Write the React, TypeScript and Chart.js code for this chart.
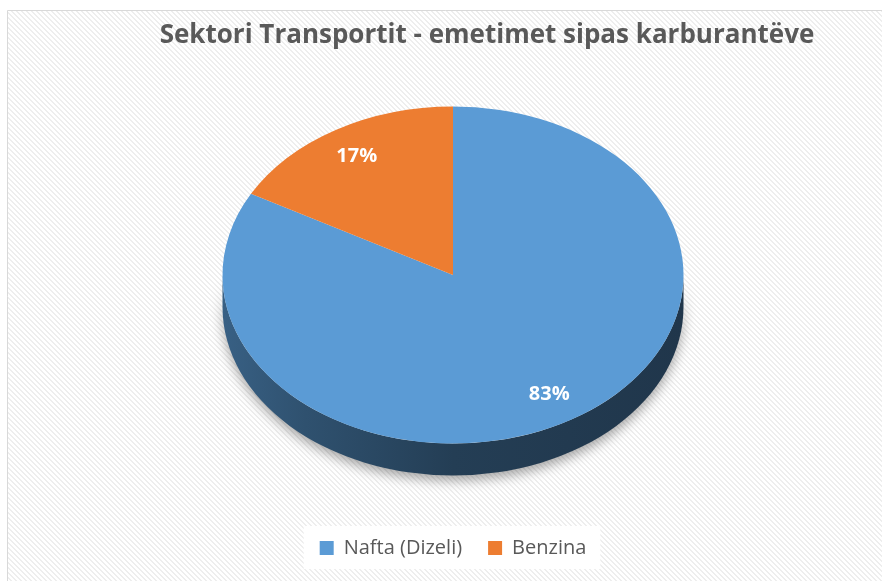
import React, { useEffect, useRef } from 'react';
import { Chart, registerables } from 'chart.js';

Chart.register(...registerables);

const chartTitle = 'Sektori Transportit - emetimet sipas karburantëve';
const categories = ['Nafta (Dizeli)', 'Benzina'];
const values = [83, 17];
const colors = ['#5B9BD5', '#ED7D31'];

const TILT = 0.731;
const DEPTH = 32;
const LABEL_FRACTION = 0.82;

function hexToRgb(hex: string) {
  const h = hex.replace('#', '');
  return [parseInt(h.slice(0, 2), 16), parseInt(h.slice(2, 4), 16), parseInt(h.slice(4, 6), 16)];
}
function shade(hex: string, f: number) {
  const [r, g, b] = hexToRgb(hex);
  return `rgb(${Math.round(r * f)},${Math.round(g * f)},${Math.round(b * f)})`;
}

function frontParts(s: number, e: number) {
  const parts: [number, number][] = [];
  const TAU = Math.PI * 2;
  for (let k = -2; k <= 2; k++) {
    const lo = Math.max(s, k * TAU);
    const hi = Math.min(e, k * TAU + Math.PI);
    if (hi > lo) parts.push([lo, hi]);
  }
  return parts;
}

function makeStripePattern(ctx: CanvasRenderingContext2D) {
  const tile = document.createElement('canvas');
  tile.width = 5;
  tile.height = 5;
  const t = tile.getContext('2d')!;
  t.fillStyle = '#ffffff';
  t.fillRect(0, 0, 5, 5);
  t.fillStyle = '#eeeeee';
  for (let y = 0; y < 5; y++) {
    for (let x = 0; x < 5; x++) {
      const d = (((x - y) % 5) + 5) % 5;
      if (d < 2) t.fillRect(x, y, 1, 1);
    }
  }
  return ctx.createPattern(tile, 'repeat');
}

const background = {
  id: 'stripedBackground',
  beforeDraw(chart: any) {
    const ctx = chart.ctx as CanvasRenderingContext2D;
    const w = chart.width, h = chart.height;
    ctx.save();
    ctx.fillStyle = '#ffffff';
    ctx.fillRect(0, 0, w, h);
    const pat = makeStripePattern(ctx);
    if (pat) {
      ctx.fillStyle = pat;
      ctx.fillRect(8, 11, w, h);
    }
    ctx.strokeStyle = '#d9d9d9';
    ctx.lineWidth = 1;
    ctx.beginPath();
    ctx.moveTo(7.5, h + 5);
    ctx.lineTo(7.5, 10.5);
    ctx.lineTo(w + 5, 10.5);
    ctx.stroke();
    // legend white panel
    const lg = chart.legend;
    if (lg && lg.legendHitBoxes && lg.legendHitBoxes.length) {
      const hb = lg.legendHitBoxes;
      const first = hb[0];
      const last = hb[hb.length - 1];
      const cyl = first.top + first.height / 2;
      ctx.fillStyle = '#ffffff';
      ctx.fillRect(first.left - 16, cyl - 22, last.left + last.width + 14 - (first.left - 16), 43);
    }
    ctx.restore();
  },
};

const pie3d = {
  id: 'pie3d',
  beforeDatasetsDraw(chart: any) {
    const ctx = chart.ctx;
    const meta = chart.getDatasetMeta(0);
    if (!meta.data.length) return;
    const c = meta.data[0].getProps(['x', 'y', 'outerRadius'], true);
    const cx = c.x, cy = c.y, R = c.outerRadius;
    meta.data.forEach((arc: any, i: number) => {
      const p = arc.getProps(['startAngle', 'endAngle'], true);
      const col = colors[i % colors.length];
      const grad = ctx.createLinearGradient(cx - R, 0, cx + R, 0);
      grad.addColorStop(0, shade(col, 0.62));
      grad.addColorStop(0.18, shade(col, 0.52));
      grad.addColorStop(0.5, shade(col, 0.4));
      grad.addColorStop(1, shade(col, 0.35));
      frontParts(p.startAngle, p.endAngle).forEach(([lo, hi]) => {
        ctx.save();
        ctx.beginPath();
        ctx.ellipse(cx, cy, R, R * TILT, 0, lo, hi, false);
        ctx.ellipse(cx, cy + DEPTH, R, R * TILT, 0, hi, lo, true);
        ctx.closePath();
        ctx.shadowColor = 'rgba(0,0,0,0.35)';
        ctx.shadowBlur = 12;
        ctx.shadowOffsetY = 5;
        ctx.fillStyle = grad;
        ctx.fill();
        ctx.restore();
      });
    });
    ctx.save();
    ctx.translate(cx, cy);
    ctx.scale(1, TILT);
    ctx.translate(-cx, -cy);
  },
  afterDatasetsDraw(chart: any) {
    const ctx = chart.ctx;
    ctx.restore();
    const meta = chart.getDatasetMeta(0);
    const total = values.reduce((a, b) => a + b, 0);
    ctx.save();
    ctx.fillStyle = '#FFFFFF';
    ctx.font = 'bold 20px "Open Sans"';
    ctx.textAlign = 'center';
    ctx.textBaseline = 'middle';
    meta.data.forEach((arc: any, i: number) => {
      const p = arc.getProps(['x', 'y', 'startAngle', 'endAngle', 'outerRadius'], true);
      const mid = (p.startAngle + p.endAngle) / 2;
      const x = p.x + LABEL_FRACTION * p.outerRadius * Math.cos(mid);
      const y = p.y + LABEL_FRACTION * p.outerRadius * TILT * Math.sin(mid);
      ctx.fillText(Math.round((values[i] / total) * 100) + '%', x, y);
    });
    ctx.restore();
  },
};

export default function App() {
  const ref = useRef<HTMLCanvasElement>(null);
  useEffect(() => {
    if (!ref.current) return;
    const chart = new Chart(ref.current, {
      type: 'pie',
      data: {
        labels: categories,
        datasets: [
          {
            data: values,
            backgroundColor: colors,
            borderWidth: 0,
            radius: 230.5,
            clip: false,
          } as any,
        ],
      },
      options: {
        responsive: false,
        animation: false,
        devicePixelRatio: 1,
        layout: { padding: { top: 38, bottom: 13, left: 31, right: 7 } },
        plugins: {
          title: { display: false },
          tooltip: { enabled: false },
          legend: {
            position: 'bottom',
            labels: {
              boxWidth: 14,
              boxHeight: 14,
              padding: 26,
              color: '#595959',
              font: { family: '"Open Sans"', size: 20 },
            },
          },
        },
      } as any,
      plugins: [background, pie3d],
    });
    return () => chart.destroy();
  }, []);

  return (
    <div style={{ position: 'fixed', left: 0, top: 0, width: 882, height: 581, overflow: 'hidden', background: '#fff' }}>
      <canvas ref={ref} width={882} height={581} style={{ position: 'absolute', left: 0, top: 0, width: 882, height: 581 }} />
      <div
        style={{
          position: 'absolute',
          left: 7,
          top: 18,
          width: 960,
          textAlign: 'center',
          fontFamily: '"Open Sans"',
          fontWeight: 'bold',
          fontSize: 26,
          lineHeight: '30px',
          color: '#595959',
          whiteSpace: 'nowrap',
        }}
      >
        {chartTitle}
      </div>
    </div>
  );
}
